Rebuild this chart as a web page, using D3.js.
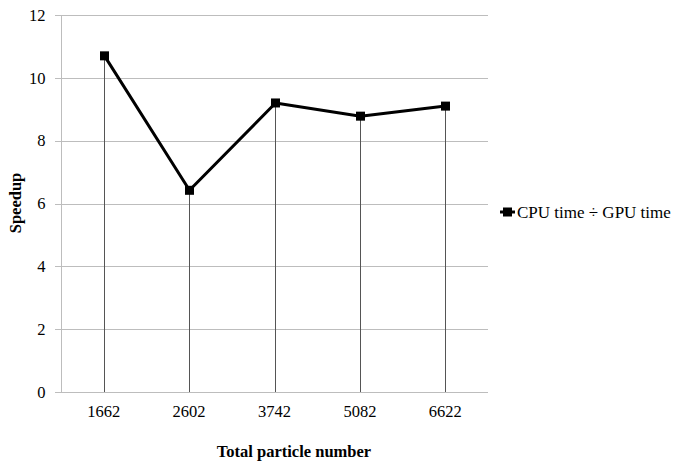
<!DOCTYPE html>
<html>
<head>
<meta charset="utf-8">
<script src="https://cdn.jsdelivr.net/npm/d3@7"></script>
<style>
  body { margin: 0; background: #fff; }
  svg { display: block; }
  svg text { font-family: "Liberation Serif", "DejaVu Serif", serif; }
</style>
</head>
<body>
<svg id="chart" width="673" height="464"></svg>
<script>
// Speedup of the GPU solver over the CPU solver for each particle count
const particleCounts = ["1662", "2602", "3742", "5082", "6622"];
const speedup = [10.7, 6.42, 9.2, 8.78, 9.1];
const yTicks = [0, 2, 4, 6, 8, 10, 12];
const seriesName = "CPU time \u00F7 GPU time";

const FONT = "'Liberation Serif', 'DejaVu Serif', serif";
const svg = d3.select("#chart");
const plot = { left: 61, right: 488, top: 15, bottom: 392 };

const x = d3.scaleBand().domain(particleCounts).range([plot.left, plot.right]);
const y = d3.scaleLinear().domain([0, 12]).range([plot.bottom, plot.top]);

// Horizontal gridlines with short outside ticks
svg.append("g")
  .selectAll("line")
  .data(yTicks)
  .join("line")
  .attr("x1", plot.left - 6)
  .attr("x2", plot.right)
  .attr("y1", d => Math.round(y(d)) + 0.5)
  .attr("y2", d => Math.round(y(d)) + 0.5)
  .attr("stroke", "#bdbdbd")
  .attr("stroke-width", 1);

// Vertical value axis line
svg.append("line")
  .attr("x1", plot.left + 0.5).attr("x2", plot.left + 0.5)
  .attr("y1", plot.top).attr("y2", plot.bottom)
  .attr("stroke", "#bdbdbd");

// Y tick labels
svg.append("g")
  .selectAll("text")
  .data(yTicks)
  .join("text")
  .attr("x", plot.left - 15.5)
  .attr("y", d => y(d))
  .attr("dy", "0.35em")
  .attr("text-anchor", "end")
  .attr("font-family", FONT)
  .attr("font-size", 16.5)
  .attr("fill", "#000")
  .text(d => d);

// X tick labels
svg.append("g")
  .selectAll("text")
  .data(particleCounts)
  .join("text")
  .attr("x", d => x(d) + x.bandwidth() / 2)
  .attr("y", plot.bottom + 25)
  .attr("text-anchor", "middle")
  .attr("font-family", FONT)
  .attr("font-size", 16.5)
  .attr("fill", "#000")
  .text(d => d);

const pts = particleCounts.map((c, i) => ({ c, v: speedup[i] }));
const cx = d => Math.round(x(d.c) + x.bandwidth() / 2) + 0.5;

// Drop lines from each point to the category axis
svg.append("g")
  .selectAll("line")
  .data(pts)
  .join("line")
  .attr("x1", cx).attr("x2", cx)
  .attr("y1", d => y(d.v))
  .attr("y2", plot.bottom)
  .attr("stroke", "#555")
  .attr("stroke-width", 1);

// Series line
svg.append("path")
  .datum(pts)
  .attr("fill", "none")
  .attr("stroke", "#000")
  .attr("stroke-width", 3)
  .attr("stroke-linejoin", "round")
  .attr("d", d3.line().x(cx).y(d => y(d.v)));

// Square markers
svg.append("g")
  .selectAll("rect")
  .data(pts)
  .join("rect")
  .attr("x", d => cx(d) - 4.5)
  .attr("y", d => y(d.v) - 4.5)
  .attr("width", 9)
  .attr("height", 9)
  .attr("fill", "#000");

// Axis titles
svg.append("text")
  .attr("x", 294)
  .attr("y", 457)
  .attr("text-anchor", "middle")
  .attr("font-family", FONT)
  .attr("font-size", 16.5)
  .attr("font-weight", "bold")
  .text("Total particle number");

svg.append("text")
  .attr("transform", "translate(21, 203) rotate(-90)")
  .attr("text-anchor", "middle")
  .attr("font-family", FONT)
  .attr("font-size", 16.5)
  .attr("font-weight", "bold")
  .text("Speedup");

// Legend
const legend = svg.append("g").attr("transform", "translate(500, 212)");
legend.append("line")
  .attr("x1", 0).attr("x2", 15)
  .attr("y1", 0).attr("y2", 0)
  .attr("stroke", "#000").attr("stroke-width", 3);
legend.append("rect")
  .attr("x", 3).attr("y", -4.5)
  .attr("width", 9).attr("height", 9)
  .attr("fill", "#000");
legend.append("text")
  .attr("x", 17)
  .attr("y", 0)
  .attr("dy", "0.35em")
  .attr("font-family", FONT)
  .attr("font-size", 17)
  .text(seriesName);
</script>
</body>
</html>
